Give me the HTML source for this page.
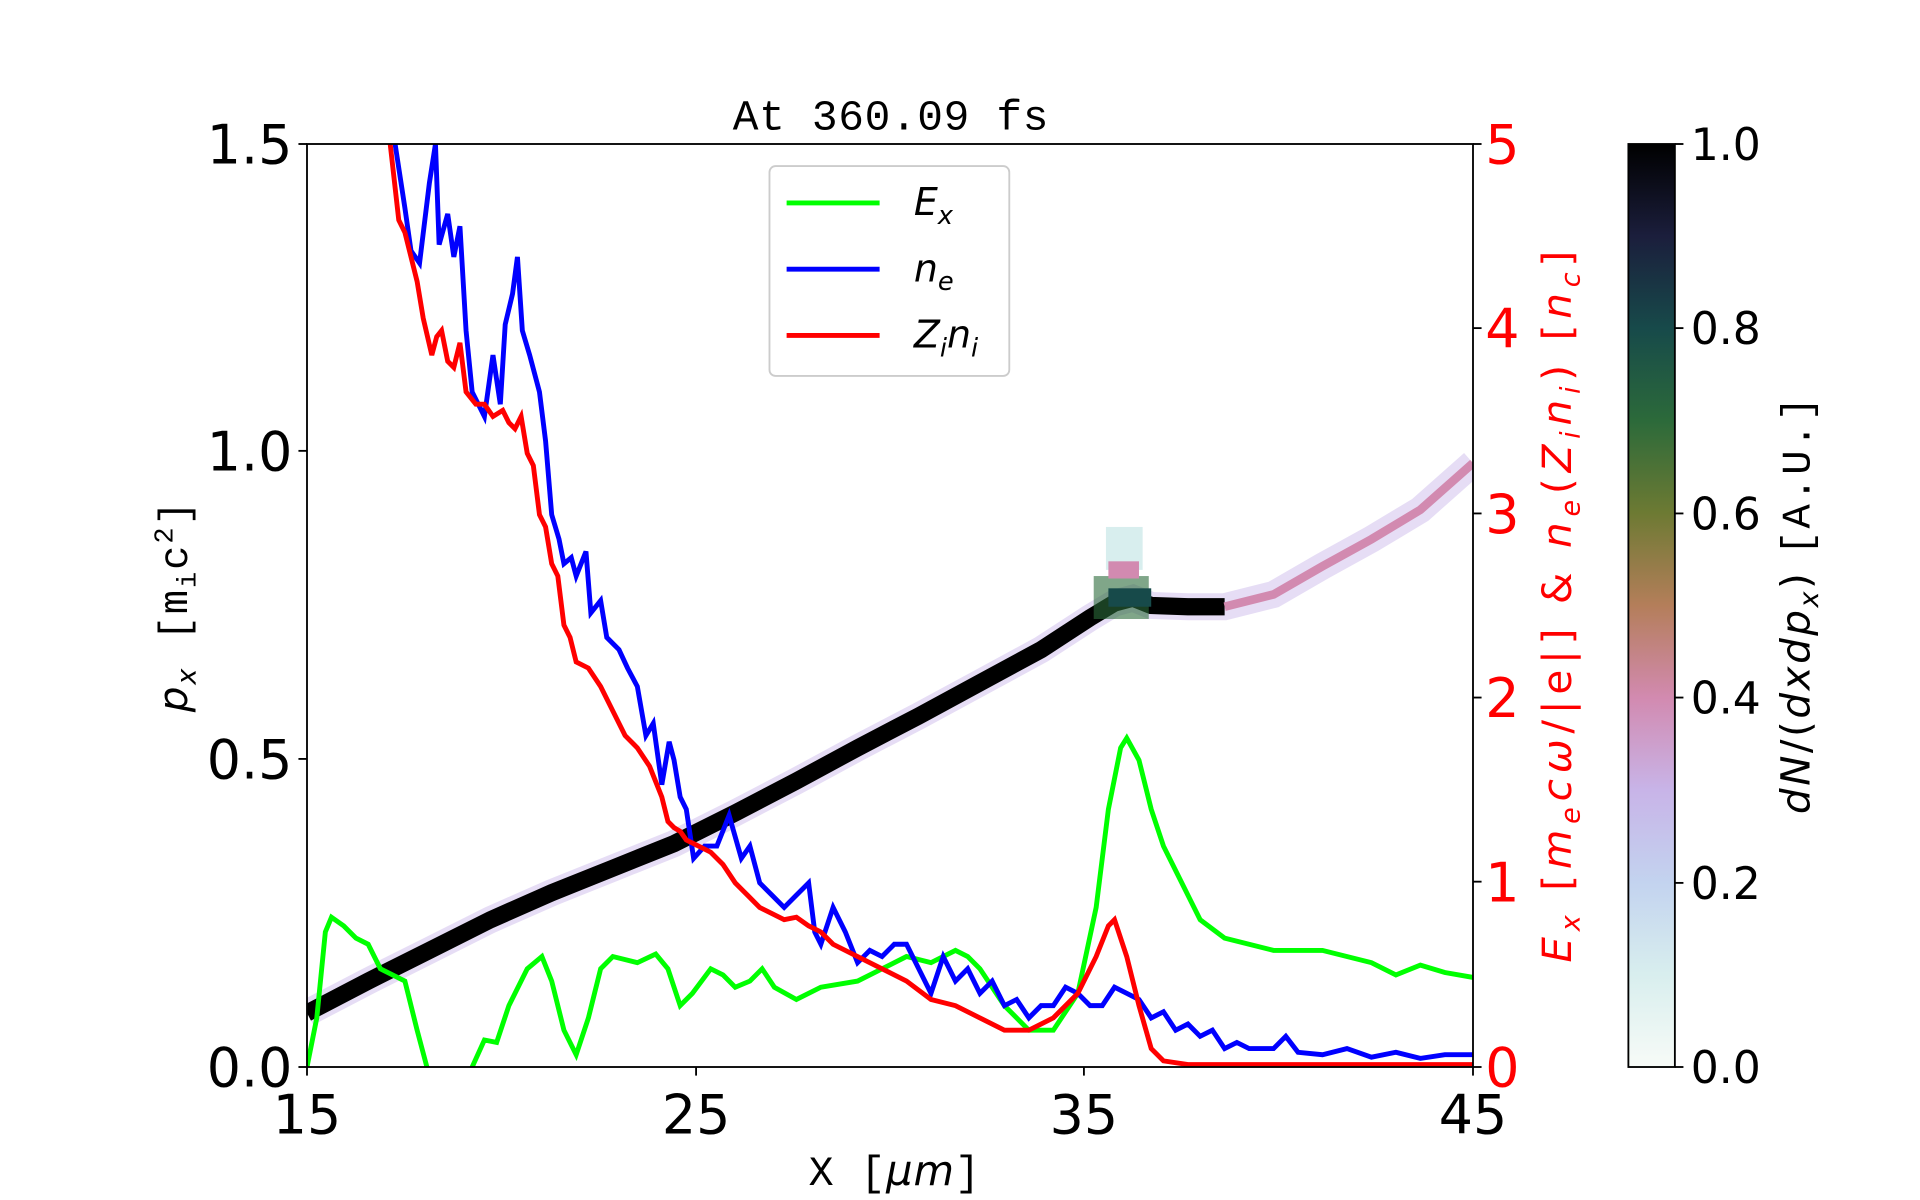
<!DOCTYPE html>
<html><head><meta charset="utf-8"><style>
html,body{margin:0;padding:0;background:#fff;width:1920px;height:1200px;overflow:hidden}
svg{display:block}
text{font-family:"DejaVu Sans","Liberation Sans",sans-serif}
</style></head><body>
<svg width="1920" height="1200" viewBox="0 0 1920 1200" xmlns="http://www.w3.org/2000/svg">
<defs>
<linearGradient id="cb" x1="0" y1="1" x2="0" y2="0">
<stop offset="0" stop-color="#f7fbf7"/>
<stop offset="0.1" stop-color="#d8eeee"/>
<stop offset="0.2" stop-color="#c3d3ef"/>
<stop offset="0.3" stop-color="#c8b4e8"/>
<stop offset="0.4" stop-color="#d28ab0"/>
<stop offset="0.5" stop-color="#b47e5a"/>
<stop offset="0.6" stop-color="#6d7a33"/>
<stop offset="0.7" stop-color="#2c6a3a"/>
<stop offset="0.8" stop-color="#174a4a"/>
<stop offset="0.9" stop-color="#1b1e3c"/>
<stop offset="1" stop-color="#000000"/>
</linearGradient>
<clipPath id="ax"><rect x="250" y="118" width="953" height="752"/></clipPath>
</defs>
<g transform="translate(307,144) scale(1.2235,1.2274) translate(-250,-118)">
<text x="727" y="106" font-size="35" text-anchor="middle" textLength="258" style="font-family:'Liberation Mono',monospace">At 360.09 fs</text>
<g clip-path="url(#ax)">
<polyline points="250,826 300,800 350,775 400,750 450,728 500,708 550,688 600,663 650,637 700,610 750,584 800,557 850,530 890,504 910,492 925,488 940,494 970,495 1000,495 1040,485 1080,462 1120,440 1160,416 1203,378" fill="none" stroke="#c8b4e8" stroke-width="22" opacity="0.45"/>
<polyline points="250,826 300,800 350,775 400,750 450,728 500,708 550,688 600,663 650,637 700,610 750,584 800,557 850,530 890,504 910,492 925,488 940,494 970,495 1000,495" fill="none" stroke="#000" stroke-width="14"/>
<polyline points="1000,495 1040,485 1080,462 1120,440 1160,416 1203,378" fill="none" stroke="#d28ab0" stroke-width="7"/>
<rect x="893" y="470" width="45" height="35" fill="#2c6a3a" opacity="0.6"/>
<rect x="903" y="430" width="30" height="35" fill="#d8eeee"/>
<rect x="905" y="458" width="25" height="14" fill="#d28ab0"/>
<rect x="905" y="480" width="35" height="15" fill="#174a4a"/>
<polyline fill="none" stroke="#00ff00" stroke-width="4" points="250,870 258,830 265,760 270,748 280,755 290,765 300,770 310,790 320,795 330,800 340,840 348,870 349,880"/>
<polyline fill="none" stroke="#00ff00" stroke-width="4" points="384,880 385,870 395,848 405,850 415,820 430,790 442,780 450,800 460,840 470,860 480,830 490,790 500,780 520,785 535,778 545,790 555,820 565,810 580,790 590,795 600,805 612,800 622,790 632,805 650,815 670,805 700,800 720,790 740,780 760,785 780,775 790,780 800,790 820,820 840,840 860,840 880,810 895,740 905,660 915,610 920,602 930,620 940,660 950,690 960,710 970,730 980,750 1000,765 1040,775 1080,775 1120,785 1140,795 1160,787 1180,793 1203,797"/>
<polyline fill="none" stroke="#0000ff" stroke-width="4" points="322,118 330,170 335,205 342,215 350,150 355,118 358,200 365,175 370,210 375,185 380,270 385,320 395,340 402,290 408,330 412,265 418,240 422,210 426,270 432,290 440,320 445,360 450,420 456,440 460,460 466,455 470,470 478,450 482,500 490,490 495,520 505,530 512,545 520,560 527,600 533,590 540,640 546,605 550,620 555,650 560,660 566,700 575,690 585,690 595,665 605,700 612,690 620,720 630,730 640,740 650,730 660,720 665,760 670,770 680,740 690,760 700,785 710,775 720,780 730,770 740,770 750,790 760,810 770,780 780,800 790,790 800,810 810,800 820,820 830,815 840,830 850,820 860,820 870,805 880,810 890,820 900,820 910,805 920,810 930,815 940,830 950,825 960,840 970,835 980,845 990,840 1000,855 1010,850 1020,855 1040,855 1050,845 1060,858 1080,860 1100,855 1120,862 1140,858 1160,863 1180,860 1203,860"/>
<polyline fill="none" stroke="#ff0000" stroke-width="4" points="318,118 325,180 330,190 335,210 340,230 345,260 352,290 356,275 360,270 365,295 370,300 375,280 380,320 388,330 395,330 402,340 410,335 415,345 420,350 425,340 430,370 435,380 440,420 445,430 450,460 455,470 460,510 465,520 470,540 480,545 490,560 500,580 510,600 520,610 530,625 540,650 545,670 550,675 555,678 560,685 570,690 580,695 590,705 600,720 610,730 620,740 630,745 640,750 650,748 660,755 670,760 680,770 700,780 720,790 740,800 760,815 780,820 800,830 820,840 840,840 860,830 880,810 895,780 905,755 910,750 920,780 930,820 940,855 950,865 970,868 1000,868 1203,868"/>
</g>
<rect x="250" y="118" width="953" height="752" fill="none" stroke="#000" stroke-width="1.5"/>
<g stroke="#000" stroke-width="1.5">
<line x1="243" y1="870" x2="250" y2="870"/><line x1="243" y1="619" x2="250" y2="619"/><line x1="243" y1="368" x2="250" y2="368"/><line x1="243" y1="118" x2="250" y2="118"/>
<line x1="250" y1="870" x2="250" y2="877"/><line x1="568" y1="870" x2="568" y2="877"/><line x1="885" y1="870" x2="885" y2="877"/><line x1="1203" y1="870" x2="1203" y2="877"/>
</g>
<g font-size="44" text-anchor="end">
<text x="238" y="886">0.0</text><text x="238" y="635">0.5</text><text x="238" y="384">1.0</text><text x="238" y="134">1.5</text>
</g>
<g font-size="44" text-anchor="middle">
<text x="250" y="924">15</text><text x="568" y="924">25</text><text x="885" y="924">35</text><text x="1203" y="924">45</text>
</g>
<text x="730" y="966" font-size="34" text-anchor="middle" textLength="140" style="font-family:'Liberation Mono',monospace">X [<tspan font-style="italic" style="font-family:'DejaVu Sans'">μm</tspan>]</text>
<text transform="translate(152,495) rotate(-90)" font-size="33" text-anchor="middle" textLength="172" style="font-family:'Liberation Mono',monospace"><tspan font-style="italic" style="font-family:'DejaVu Sans'">p</tspan><tspan font-size="22" dy="7" font-style="italic" style="font-family:'DejaVu Sans'">x</tspan><tspan dy="-7"> [m</tspan><tspan font-size="22" dy="7">i</tspan><tspan dy="-7">c</tspan><tspan font-size="22" dy="-12">2</tspan><tspan dy="12">]</tspan></text>
<g stroke="#000" stroke-width="1.5">
<line x1="1203" y1="870" x2="1210" y2="870"/><line x1="1203" y1="719" x2="1210" y2="719"/><line x1="1203" y1="569" x2="1210" y2="569"/><line x1="1203" y1="419" x2="1210" y2="419"/><line x1="1203" y1="268" x2="1210" y2="268"/><line x1="1203" y1="118" x2="1210" y2="118"/>
</g>
<g font-size="44" fill="#ff0000">
<text x="1213" y="886">0</text><text x="1213" y="735">1</text><text x="1213" y="585">2</text><text x="1213" y="435">3</text><text x="1213" y="284">4</text><text x="1213" y="134">5</text>
</g>
<text transform="translate(1283,495) rotate(-90)" font-size="33" fill="#ff0000" text-anchor="middle" textLength="580" font-style="italic">E<tspan font-size="22" dy="7">x</tspan><tspan dy="-7" font-style="normal">  [</tspan>m<tspan font-size="22" dy="7">e</tspan><tspan dy="-7">cω</tspan><tspan font-style="normal">/|e|]  &amp;  </tspan>n<tspan font-size="22" dy="7">e</tspan><tspan dy="-7" font-style="normal">(</tspan>Z<tspan font-size="22" dy="7">i</tspan><tspan dy="-7">n</tspan><tspan font-size="22" dy="7">i</tspan><tspan dy="-7" font-style="normal">)  [</tspan>n<tspan font-size="22" dy="7">c</tspan><tspan dy="-7" font-style="normal">]</tspan></text>
<rect x="628" y="136" width="196" height="171" rx="5" fill="#fff" stroke="#ccc" stroke-width="1.5"/>
<line x1="642" y1="166" x2="718" y2="166" stroke="#00ff00" stroke-width="4"/>
<line x1="642" y1="220" x2="718" y2="220" stroke="#0000ff" stroke-width="4"/>
<line x1="642" y1="274" x2="718" y2="274" stroke="#ff0000" stroke-width="4"/>
<g font-size="31" font-style="italic">
<text x="746" y="176">E<tspan font-size="21" dy="7">x</tspan></text>
<text x="746" y="230">n<tspan font-size="21" dy="7">e</tspan></text>
<text x="746" y="284">Z<tspan font-size="21" dy="7">i</tspan><tspan dy="-7">n</tspan><tspan font-size="21" dy="7">i</tspan></text>
</g>
<rect x="1330" y="118" width="38" height="752" fill="url(#cb)" stroke="#000" stroke-width="1.5"/>
<g stroke="#000" stroke-width="1.5">
<line x1="1368" y1="870" x2="1375" y2="870"/><line x1="1368" y1="720" x2="1375" y2="720"/><line x1="1368" y1="569" x2="1375" y2="569"/><line x1="1368" y1="419" x2="1375" y2="419"/><line x1="1368" y1="268" x2="1375" y2="268"/><line x1="1368" y1="118" x2="1375" y2="118"/>
</g>
<g font-size="36">
<text x="1381" y="883">0.0</text><text x="1381" y="733">0.2</text><text x="1381" y="582">0.4</text><text x="1381" y="432">0.6</text><text x="1381" y="281">0.8</text><text x="1381" y="131">1.0</text>
</g>
<text transform="translate(1478,494) rotate(-90)" font-size="33" text-anchor="middle" textLength="340"><tspan font-style="italic">dN</tspan>/(<tspan font-style="italic">dxdp</tspan><tspan font-size="22" dy="7" font-style="italic">x</tspan><tspan dy="-7">)  </tspan><tspan style="font-family:'Liberation Mono',monospace">[A.U.]</tspan></text>
</g>
</svg>
</body></html>
